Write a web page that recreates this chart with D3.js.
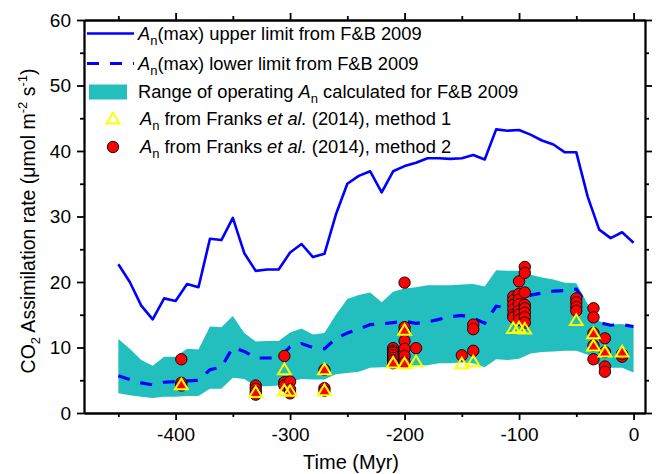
<!DOCTYPE html>
<html>
<head>
  <title>CO2 Assimilation rate over time</title>
  <style>
    body {
      margin: 0;
      background: #fff;
    }

    text {
      font-family: "Liberation Sans", Arial, sans-serif;
      fill: #000;
    }

    .axis path,
    .axis line {
      stroke: #000;
      stroke-width: 1.8px;
    }
  </style>
</head>
<body>
  <script src="https://d3js.org/d3.v7.min.js"></script>
  <script>
    // Time grid (Myr) shared by the F&B 2009 curves
    const times = [-450, -440, -430, -420, -410, -400, -390, -380, -370, -360,
      -350, -340, -330, -320, -310, -300, -290, -280, -270, -260,
      -250, -240, -230, -220, -210, -200, -190, -180, -170, -160,
      -150, -140, -130, -120, -110, -100, -90, -80, -70, -60,
      -50, -40, -30, -20, -10, 0];

    // An(max) upper limit (solid line)
    const upperLimit = [22.7, 20.0, 16.4, 14.3, 17.5, 17.1, 19.7, 19.2, 26.6, 26.4,
      29.8, 24.4, 21.7, 21.9, 21.9, 24.5, 25.8, 23.8, 24.3, 30.3,
      35.0, 36.2, 36.9, 33.7, 36.9, 37.7, 38.2, 38.9, 38.9, 38.8,
      38.9, 39.4, 38.7, 43.3, 43.1, 43.2, 42.5, 41.6, 41.0, 39.8,
      39.8, 33.0, 28.0, 26.7, 27.6, 26.0];

    // An(max) lower limit (dashed line)
    const lowerLimit = [5.7, 5.1, 4.6, 4.3, 4.7, 4.8, 4.9, 5.0, 6.6, 7.0,
      10.0, 9.4, 8.4, 8.4, 8.4, 10.1, 10.6, 10.0, 9.8, 11.4,
      12.2, 12.8, 13.5, 13.6, 13.8, 14.0, 13.7, 13.9, 14.3, 14.7,
      14.9, 14.5, 13.7, 16.3, 16.1, 16.0, 18.0, 18.3, 18.6, 18.7,
      18.9, 16.5, 13.8, 13.4, 13.5, 13.2];

    // Range of operating An (shaded band)
    const rangeTop = [11.3, 9.8, 8.1, 7.2, 8.6, 8.6, 9.8, 9.7, 13.2, 13.1,
      14.8, 12.2, 10.9, 11.0, 11.0, 12.3, 12.9, 12.0, 12.2, 15.0,
      17.4, 18.0, 18.4, 16.9, 18.5, 19.0, 19.2, 19.5, 19.5, 19.5,
      19.6, 19.7, 19.3, 21.8, 21.7, 21.7, 21.1, 20.7, 20.4, 19.9,
      19.8, 16.6, 14.0, 13.5, 13.6, 13.1];
    const rangeBottom = [3.0, 2.7, 2.5, 2.3, 2.5, 2.5, 2.6, 2.6, 3.7, 3.7,
      5.4, 5.2, 4.1, 4.1, 4.2, 4.8, 5.2, 5.1, 5.1, 5.9,
      6.1, 6.3, 6.9, 7.0, 7.0, 7.1, 7.2, 7.3, 7.6, 7.6,
      7.7, 7.6, 7.0, 8.2, 8.1, 8.3, 9.1, 9.3, 9.4, 9.5,
      9.5, 8.9, 7.2, 6.9, 6.9, 6.2];

    // Franks et al. (2014), method 1 (triangles)
    const method1Times = [-395, -330, -305, -305, -300, -270, -270, -210, -200, -200,
      -190, -150, -140, -105, -100, -95, -50, -35, -35, -25, -10];
    const method1Values = [4.3, 3.1, 6.6, 3.4, 3.3, 6.6, 3.4, 7.6, 12.6, 7.5,
      7.8, 7.5, 7.8, 12.9, 13.0, 12.8, 14.1, 12.1, 10.2, 9.3, 9.3];

    // Franks et al. (2014), method 2 (circles)
    const method2Times = [-395, -395, -395,
      -330, -330, -330, -330,
      -305, -305, -305,
      -300, -300, -300,
      -270, -270, -270,
      -210, -210, -210, -210, -210, -210, -210,
      -200, -200, -200, -200, -200, -200, -200,
      -190, -150, -140, -140, -140,
      -105, -105, -105, -105, -105, -105,
      -100, -100, -100, -100, -100, -100, -100,
      -95, -95, -95, -95, -95, -95, -95, -95,
      -50, -50, -50, -50,
      -35, -35, -35, -35, -35,
      -25, -25, -25, -25,
      -10, -10];
    const method2Values = [8.2, 4.6, 4.2,
      4.2, 3.7, 3.2, 2.8,
      8.7, 4.7, 4.2,
      4.8, 3.6, 3.0,
      6.6, 3.8, 3.4,
      9.9, 9.5, 9.2, 8.8, 8.4, 8.0, 7.6,
      19.9, 13.1, 12.4, 11.0, 9.8, 8.7, 7.7,
      9.9, 8.8, 13.5, 12.8, 9.5,
      17.8, 17.2, 16.5, 15.8, 15.0, 14.6,
      20.1, 18.2, 17.3, 16.6, 15.6, 15.0, 14.2,
      22.3, 21.4, 18.4, 16.5, 16.0, 15.3, 14.6, 13.8,
      17.5, 16.9, 16.2, 15.6,
      16.0, 14.6, 12.2, 10.3, 8.2,
      11.4, 9.3, 7.1, 6.3,
      8.6, 9.0];

    const xMajor = [-400, -300, -200, -100, 0];
    const xMinor = [-450, -350, -250, -150, -50];
    const yMajor = [0, 10, 20, 30, 40, 50, 60];
    const yMinor = [5, 15, 25, 35, 45, 55];

    const width = 656;
    const height = 474;
    const margin = { top: 20, right: 11, bottom: 61, left: 84 };

    const svg = d3.select('body')
      .append('svg')
      .attr('width', width)
      .attr('height', height);

    const x = d3.scaleLinear()
      .domain([-480, 10])
      .range([margin.left, width - margin.right]);

    const y = d3.scaleLinear()
      .domain([0, 60])
      .range([height - margin.bottom, margin.top]);

    const curves = times.map(function(t, i) {
      return { t: t, up: upperLimit[i], low: lowerLimit[i], top: rangeTop[i], bottom: rangeBottom[i] };
    });

    // Shaded range
    svg.append('path')
      .datum(curves)
      .attr('fill', '#23bfbf')
      .attr('d', d3.area()
        .x(function(d) { return x(d.t); })
        .y0(function(d) { return y(d.bottom); })
        .y1(function(d) { return y(d.top); }));

    // Upper and lower limit lines
    svg.append('path')
      .datum(curves)
      .attr('fill', 'none')
      .attr('stroke', '#0000ff')
      .attr('stroke-width', 2.6)
      .attr('stroke-linejoin', 'round')
      .attr('d', d3.line()
        .x(function(d) { return x(d.t); })
        .y(function(d) { return y(d.up); }));

    svg.append('path')
      .datum(curves)
      .attr('fill', 'none')
      .attr('stroke', '#0000ff')
      .attr('stroke-width', 3.2)
      .attr('stroke-dasharray', '12,11')
      .attr('d', d3.line()
        .x(function(d) { return x(d.t); })
        .y(function(d) { return y(d.low); }));

    // Markers
    const circles = method2Times.map(function(t, i) {
      return { t: t, v: method2Values[i] };
    });
    const triangles = method1Times.map(function(t, i) {
      return { t: t, v: method1Values[i] };
    });

    const triPath = 'M0,-6.2L6.4,4.4L-6.4,4.4Z';

    svg.selectAll('circle.m2')
      .data(circles)
      .enter()
      .append('circle')
      .attr('class', 'm2')
      .attr('cx', function(d) { return x(d.t); })
      .attr('cy', function(d) { return y(d.v); })
      .attr('r', 5.7)
      .attr('fill', '#ff0000')
      .attr('stroke', '#000')
      .attr('stroke-width', 0.9);

    svg.selectAll('path.m1')
      .data(triangles)
      .enter()
      .append('path')
      .attr('class', 'm1')
      .attr('d', triPath)
      .attr('transform', function(d) { return 'translate(' + x(d.t) + ',' + y(d.v) + ')'; })
      .attr('fill', 'none')
      .attr('stroke', '#ffff00')
      .attr('stroke-width', 2);

    // Axes on all four sides
    const plotBottom = height - margin.bottom;
    const plotRight = width - margin.right;

    function drawAxis(axis, tx, ty) {
      const g = svg.append('g')
        .attr('class', 'axis')
        .attr('transform', 'translate(' + tx + ',' + ty + ')')
        .call(axis);
      g.selectAll('text')
        .style('font-size', '19px')
        .style('font-family', '"Liberation Sans", Arial, sans-serif');
      return g;
    }

    drawAxis(d3.axisBottom(x).tickValues(xMajor).tickSize(7).tickSizeOuter(0).tickPadding(8)
      .tickFormat(function(d) { return String(d); }), 0, plotBottom);
    drawAxis(d3.axisBottom(x).tickValues(xMinor).tickSize(4).tickSizeOuter(0).tickFormat(''), 0, plotBottom);
    drawAxis(d3.axisTop(x).tickValues(xMajor).tickSize(7).tickSizeOuter(0).tickFormat(''), 0, margin.top);
    drawAxis(d3.axisTop(x).tickValues(xMinor).tickSize(4).tickSizeOuter(0).tickFormat(''), 0, margin.top);

    drawAxis(d3.axisLeft(y).tickValues(yMajor).tickSize(7).tickSizeOuter(0).tickPadding(6), margin.left, 0);
    drawAxis(d3.axisLeft(y).tickValues(yMinor).tickSize(4).tickSizeOuter(0).tickFormat(''), margin.left, 0);
    drawAxis(d3.axisRight(y).tickValues(yMajor).tickSize(7).tickSizeOuter(0).tickFormat(''), plotRight, 0);
    drawAxis(d3.axisRight(y).tickValues(yMinor).tickSize(4).tickSizeOuter(0).tickFormat(''), plotRight, 0);

    // Axis titles
    svg.append('text')
      .attr('x', 351)
      .attr('y', 469)
      .attr('text-anchor', 'middle')
      .style('font-size', '20px')
      .text('Time (Myr)');

    const yTitle = svg.append('text')
      .attr('transform', 'translate(35,221) rotate(-90)')
      .attr('text-anchor', 'middle')
      .style('font-size', '19.5px');
    yTitle.append('tspan').text('CO');
    yTitle.append('tspan').attr('dy', 5).style('font-size', '13px').text('2');
    yTitle.append('tspan').attr('dy', -5).text(' Assimilation rate (\u03bcmol m');
    yTitle.append('tspan').attr('dy', -8).style('font-size', '13px').text('-2');
    yTitle.append('tspan').attr('dy', 8).text(' s');
    yTitle.append('tspan').attr('dy', -8).style('font-size', '13px').text('-1');
    yTitle.append('tspan').attr('dy', 8).text(')');

    // Legend
    const legend = svg.append('g');
    const rowY = [33.5, 63.5, 92, 119, 147];

    legend.append('line')
      .attr('x1', 87).attr('x2', 134)
      .attr('y1', rowY[0]).attr('y2', rowY[0])
      .attr('stroke', '#0000ff').attr('stroke-width', 2.6);
    legend.append('line')
      .attr('x1', 87).attr('x2', 134)
      .attr('y1', rowY[1]).attr('y2', rowY[1])
      .attr('stroke', '#0000ff').attr('stroke-width', 3.2)
      .attr('stroke-dasharray', '12,11');
    legend.append('rect')
      .attr('x', 89).attr('y', rowY[2] - 7.5)
      .attr('width', 38).attr('height', 15)
      .attr('fill', '#23bfbf');
    legend.append('path')
      .attr('d', triPath)
      .attr('transform', 'translate(113,' + rowY[3] + ')')
      .attr('fill', 'none').attr('stroke', '#ffff00').attr('stroke-width', 2);
    legend.append('circle')
      .attr('cx', 113).attr('cy', rowY[4]).attr('r', 5.7)
      .attr('fill', '#ff0000').attr('stroke', '#000').attr('stroke-width', 0.9);

    const legendText = [
      [['A', 'i'], ['n', 'sub'], ['(max) upper limit from F&B 2009', '']],
      [['A', 'i'], ['n', 'sub'], ['(max) lower limit from F&B 2009', '']],
      [['Range of operating ', ''], ['A', 'i'], ['n', 'sub'], [' calculated for F&B 2009', '']],
      [['A', 'i'], ['n', 'sub'], [' from Franks ', ''], ['et al.', 'i'], [' (2014), method 1', '']],
      [['A', 'i'], ['n', 'sub'], [' from Franks ', ''], ['et al.', 'i'], [' (2014), method 2', '']]
    ];

    legendText.forEach(function(parts, i) {
      const t = legend.append('text')
        .attr('x', i < 3 ? 138 : 140)
        .attr('y', rowY[i] + 6)
        .style('font-size', '18.3px');
      let shifted = false;
      parts.forEach(function(p) {
        const span = t.append('tspan').text(p[0]);
        if (p[1] === 'i') span.style('font-style', 'italic');
        if (p[1] === 'sub') {
          span.attr('dy', 5).style('font-size', '13px');
          shifted = true;
        } else if (shifted) {
          span.attr('dy', -5);
          shifted = false;
        }
      });
    });
  </script>
</body>
</html>
